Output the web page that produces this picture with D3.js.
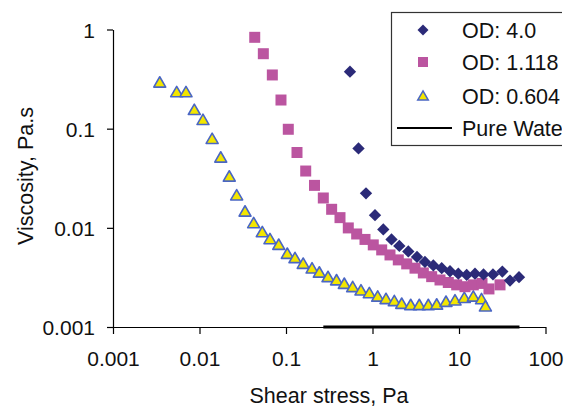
<!DOCTYPE html>
<html>
<head>
<meta charset="utf-8">
<script src="https://cdn.jsdelivr.net/npm/d3@7"></script>
<style>
  html, body { margin: 0; padding: 0; background: #fff; }
  svg { display: block; font-family: "Liberation Sans", Arial, Helvetica, sans-serif; }
</style>
</head>
<body>
<svg id="chart" width="566" height="407"></svg>
<script>
// Shear stress (Pa) and viscosity (Pa.s) for three suspensions and pure water
const od4Stress = [0.549, 0.689, 0.841, 1.069, 1.333, 1.659, 2.042, 2.594, 3.27, 4.04, 5.05, 6.31, 7.87, 9.82, 12.27, 15.31, 19.2, 24.7, 31.7, 38.9, 49.4];
const od4Visc   = [0.376, 0.0632, 0.0223, 0.01342, 0.00964, 0.00764, 0.00657, 0.00578, 0.00509, 0.00453, 0.00418, 0.00392, 0.00365, 0.00345, 0.00335, 0.00345, 0.00339, 0.00339, 0.00362, 0.00294, 0.00318];

const od1118Stress = [0.0435, 0.0547, 0.0695, 0.0875, 0.1063, 0.134, 0.169, 0.2135, 0.270, 0.337, 0.421, 0.525, 0.656, 0.819, 1.021, 1.277, 1.593, 1.987, 2.485, 3.10, 3.87, 4.83, 6.03, 7.52, 9.40, 11.73, 14.63, 18.45, 22.2, 29.8];
const od1118Visc   = [0.834, 0.570, 0.348, 0.1945, 0.0986, 0.0575, 0.0374, 0.0268, 0.0200, 0.01538, 0.01267, 0.00998, 0.00867, 0.00764, 0.00673, 0.00599, 0.00533, 0.00475, 0.00433, 0.00392, 0.00351, 0.00322, 0.00298, 0.00281, 0.00266, 0.00255, 0.00266, 0.00275, 0.00242, 0.00266];

const od0604Stress = [0.00347, 0.00545, 0.00698, 0.00871, 0.01097, 0.0140, 0.0176, 0.0221, 0.0269, 0.0336, 0.0423, 0.0532, 0.0653, 0.0824, 0.1035, 0.127, 0.158, 0.200, 0.243, 0.306, 0.384, 0.472, 0.590, 0.736, 0.919, 1.148, 1.432, 1.787, 2.176, 2.765, 3.477, 4.418, 5.524, 7.073, 8.99, 11.52, 14.63, 18.2, 20.2];
const od0604Visc   = [0.291, 0.233, 0.233, 0.154, 0.122, 0.0787, 0.0510, 0.0328, 0.0212, 0.01456, 0.01112, 0.00902, 0.00767, 0.00673, 0.00546, 0.00494, 0.00433, 0.00388, 0.00353, 0.00318, 0.00295, 0.00272, 0.00252, 0.00233, 0.00219, 0.00202, 0.00191, 0.00182, 0.00171, 0.00166, 0.00166, 0.00166, 0.00168, 0.00179, 0.00185, 0.00196, 0.00202, 0.00190, 0.00161];

const waterStress = [0.27, 50];
const waterVisc   = [0.001, 0.001];

const xTickValues = [0.001, 0.01, 0.1, 1, 10, 100];
const xTickLabels = ["0.001", "0.01", "0.1", "1", "10", "100"];
const yTickValues = [0.001, 0.01, 0.1, 1];
const yTickLabels = ["0.001", "0.01", "0.1", "1"];

const legendLabels = ["OD: 4.0", "OD: 1.118", "OD: 0.604", "Pure Water"];

const colors = { od4: "#2b2a78", od1118: "#bb55a0", triFill: "#f3e600", triStroke: "#4a66c4", water: "#000" };

const svg = d3.select("#chart");

const x = d3.scaleLog().domain([0.001, 100]).range([113, 545.5]);
const y = d3.scaleLog().domain([0.001, 1]).range([327, 29.5]);

const zip = (a, b) => a.map((v, i) => ({ x: v, y: b[i] }));

// Axes
const xAxis = d3.axisBottom(x)
  .tickValues(xTickValues)
  .tickFormat((d, i) => xTickLabels[i])
  .tickSize(7)
  .tickSizeOuter(0);
const yAxis = d3.axisLeft(y)
  .tickValues(yTickValues)
  .tickFormat((d, i) => yTickLabels[i])
  .tickSize(6)
  .tickSizeOuter(0);

const gx = svg.append("g").attr("transform", "translate(0,327)").call(xAxis);
const gy = svg.append("g").attr("transform", "translate(113,0)").call(yAxis);

[gx, gy].forEach(g => {
  g.select(".domain").attr("stroke", "#000").attr("stroke-width", 1.2);
  g.selectAll(".tick line").attr("stroke", "#000").attr("stroke-width", 1.2);
  g.selectAll(".tick text")
    .attr("fill", "#111")
    .style("font-size", "21px")
    .style("font-family", "'Liberation Sans', Arial, sans-serif");
});
gx.selectAll(".tick text").attr("y", 39).attr("dy", 0);
gy.selectAll(".tick text").attr("x", -18).attr("dy", "0.36em");

// Axis titles
svg.append("text")
  .attr("x", 329).attr("y", 403)
  .attr("text-anchor", "middle")
  .style("font-size", "21.5px")
  .attr("fill", "#111")
  .text("Shear stress, Pa");

svg.append("text")
  .attr("transform", "translate(33,176) rotate(-90)")
  .attr("text-anchor", "middle")
  .style("font-size", "21.5px")
  .attr("fill", "#111")
  .text("Viscosity, Pa.s");

// Pure water reference line
const line = d3.line().x(d => x(d.x)).y(d => y(d.y));
svg.append("path")
  .datum(zip(waterStress, waterVisc))
  .attr("d", line)
  .attr("fill", "none")
  .attr("stroke", colors.water)
  .attr("stroke-width", 3);

// Symbol generators
const diamond = d3.symbol().type(d3.symbolSquare).size(76);
const square = d3.symbol().type(d3.symbolSquare).size(121);
const triangle = d3.symbol().type(d3.symbolTriangle).size(62);

// OD 0.604 (triangles)
svg.append("g").selectAll("path")
  .data(zip(od0604Stress, od0604Visc))
  .join("path")
  .attr("d", triangle)
  .attr("transform", d => `translate(${x(d.x)},${y(d.y) + 1})`)
  .attr("fill", colors.triFill)
  .attr("stroke", colors.triStroke)
  .attr("stroke-width", 1.6)
  .attr("stroke-linejoin", "round");

// OD 1.118 (squares)
svg.append("g").selectAll("path")
  .data(zip(od1118Stress, od1118Visc))
  .join("path")
  .attr("d", square)
  .attr("transform", d => `translate(${x(d.x)},${y(d.y)})`)
  .attr("fill", colors.od1118);

// OD 4.0 (diamonds)
svg.append("g").selectAll("path")
  .data(zip(od4Stress, od4Visc))
  .join("path")
  .attr("d", diamond)
  .attr("transform", d => `translate(${x(d.x)},${y(d.y)}) rotate(45)`)
  .attr("fill", colors.od4);

// Legend (its right part runs past the figure edge)
svg.append("defs").append("clipPath").attr("id", "legend-clip")
  .append("rect").attr("x", 380).attr("y", 0).attr("width", 182).attr("height", 160);

const legend = svg.append("g").attr("clip-path", "url(#legend-clip)");
legend.append("rect")
  .attr("x", 391.5).attr("y", 12.5)
  .attr("width", 200).attr("height", 133)
  .attr("fill", "#fff")
  .attr("stroke", "#333")
  .attr("stroke-width", 1.2);

const rowY = [30, 62, 96, 128];
legend.append("path").attr("d", d3.symbol().type(d3.symbolSquare).size(60))
  .attr("transform", `translate(423,${rowY[0]}) rotate(45)`).attr("fill", colors.od4);
legend.append("path").attr("d", d3.symbol().type(d3.symbolSquare).size(100))
  .attr("transform", `translate(423,${rowY[1]})`).attr("fill", colors.od1118);
legend.append("path").attr("d", d3.symbol().type(d3.symbolTriangle).size(48))
  .attr("transform", `translate(423,${rowY[2] + 1})`)
  .attr("fill", colors.triFill).attr("stroke", colors.triStroke).attr("stroke-width", 1.5);
legend.append("line")
  .attr("x1", 397).attr("x2", 452).attr("y1", rowY[3]).attr("y2", rowY[3])
  .attr("stroke", "#000").attr("stroke-width", 2.2);

legend.selectAll("text.lbl")
  .data(legendLabels)
  .join("text")
  .attr("class", "lbl")
  .attr("x", 462)
  .attr("y", (d, i) => rowY[i] + 7.5)
  .style("font-size", "21.5px")
  .attr("fill", "#111")
  .text(d => d);
</script>
</body>
</html>
